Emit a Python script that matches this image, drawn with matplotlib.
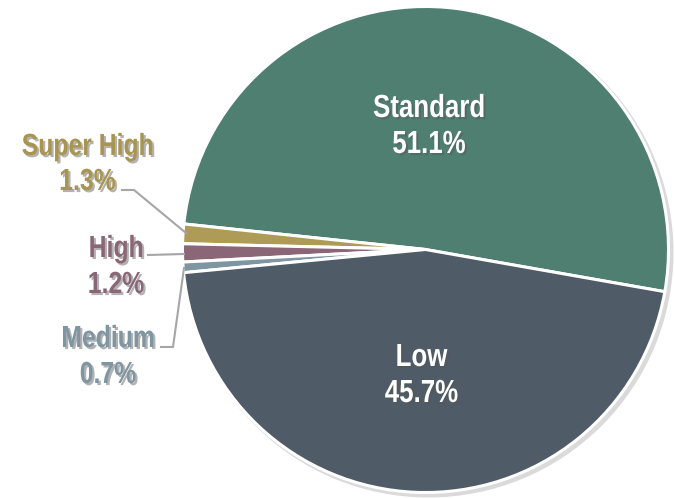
import matplotlib
matplotlib.use("Agg")
import matplotlib.pyplot as plt
import matplotlib.patheffects as pe
from matplotlib.transforms import Affine2D

categories = ["Standard", "Super High", "High", "Medium", "Low"]
values = [51.1, 1.3, 1.2, 0.7, 45.7]
colors = ["#4E7F71", "#AE9B55", "#8A6677", "#7F95A1", "#4F5B66"]
label_colors = ["#FFFFFF", "#A8954F", "#8A6677", "#7F95A1", "#FFFFFF"]

W, H = 675, 499
fig = plt.figure(figsize=(W / 100, H / 100), dpi=100)
ax = fig.add_axes([0, 0, 1, 1])

cx, cy, R = 425.5, H - 249.5, 243

ax.pie([1], radius=R + 2, center=(cx + 3, cy - 3), colors=["#DADADA"],
       wedgeprops=dict(linewidth=0), frame=True)
ax.pie(values, radius=R, center=(cx, cy), colors=colors, startangle=-10,
       counterclock=True,
       wedgeprops=dict(edgecolor="white", linewidth=2.2), frame=True)
ax.set_xlim(0, W)
ax.set_ylim(0, H)
ax.axis("off")


class Squeeze(pe.AbstractPathEffect):
    """Narrow the glyphs horizontally around the anchor (Arial Narrow look)."""
    def __init__(self, x0, sx, effects):
        super().__init__()
        self.x0, self.sx, self.effects = x0, sx, effects

    def draw_path(self, renderer, gc, tpath, affine, rgbFace=None):
        x0 = self.x0 * renderer.points_to_pixels(72) / 100.0 if False else self.x0
        a = affine + Affine2D().translate(-x0, 0).scale(self.sx, 1).translate(x0, 0)
        for e in self.effects:
            e.draw_path(renderer, gc, tpath, a, rgbFace)


def effects(x):
    return [Squeeze(x, 0.81, [pe.SimplePatchShadow(offset=(1.5, -1.5), shadow_rgbFace="#555555", alpha=0.45),
                              pe.Normal()])]


def lbl(x, y1, y2, name, val, color, fs=23):
    for y, t in ((y1, name), (y2, f"{val:.1f}%")):
        ax.text(x, H - y, t, ha="center", va="baseline", fontweight="bold",
                family="Liberation Sans", fontsize=fs, color=color,
                path_effects=effects(x))

lbl(429, 117, 153, categories[0], values[0], label_colors[0])
lbl(421.5, 366, 402, categories[4], values[4], label_colors[4])
lbl(87.5, 155, 190, categories[1], values[1], label_colors[1], 22)
lbl(116, 257, 293, categories[2], values[2], label_colors[2], 22)
lbl(108, 347, 383, categories[3], values[3], label_colors[3], 22)

lc = "#A6A6A6"
ax.plot([122, 134, 186], [H - 190, H - 190, H - 233], color=lc, lw=1.5)
ax.plot([148, 184], [H - 255, H - 254], color=lc, lw=1.5)
ax.plot([161, 173, 184], [H - 347, H - 347, H - 268], color=lc, lw=1.5)

fig.savefig("out.png", dpi=100)
